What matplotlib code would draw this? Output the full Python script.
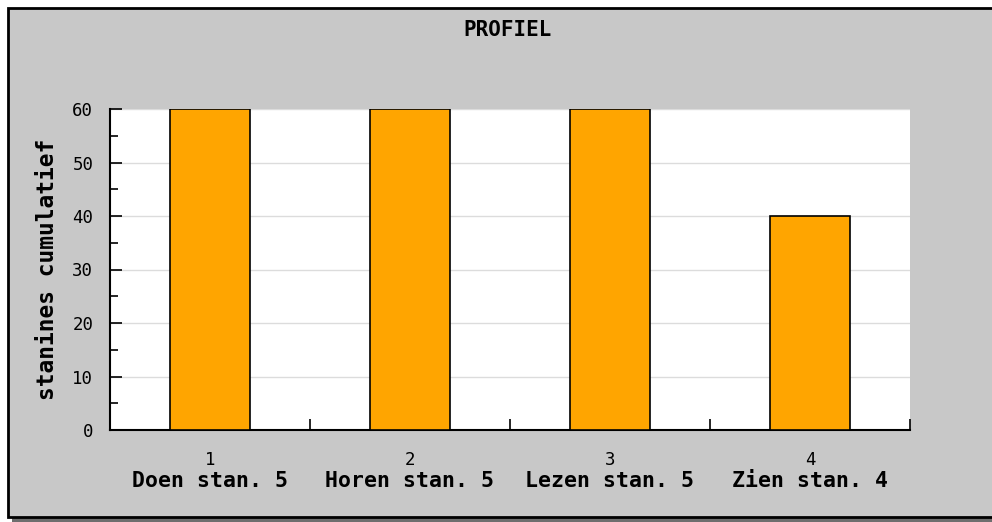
import matplotlib.pyplot as plt
from matplotlib.patches import Rectangle
from matplotlib.ticker import MultipleLocator

# data
posities = [1, 2, 3, 4]
namen = ['Doen stan. 5', 'Horen stan. 5', 'Lezen stan. 5', 'Zien stan. 4']
waarden = [60, 60, 60, 40]

W, H = 992, 522
fig = plt.figure(figsize=(W / 100, H / 100), dpi=100)
fig.patch.set_facecolor('white')

def fx(px):
    return px / W

def fy(py):
    return 1 - py / H

# schaduw + paneel met rand
fig.patches.append(Rectangle((fx(12), fy(522)), fx(1000), 510 / H,
                             transform=fig.transFigure, facecolor='#6e6e6e', edgecolor='none', zorder=0))
fig.patches.append(Rectangle((fx(8), fy(517)), fx(1000), (517 - 8) / H,
                             transform=fig.transFigure, facecolor='#c8c8c8', edgecolor='black',
                             linewidth=2, zorder=1))

ax = fig.add_axes([fx(110), fy(430), fx(800), (430 - 109) / H])
ax.set_facecolor('white')
ax.set_zorder(2)

ax.bar(posities, waarden, width=0.4, color='#ffa500', edgecolor='black', linewidth=1.2, zorder=3)

ax.set_xlim(0.5, 4.5)
ax.set_ylim(0, 60)
ax.yaxis.set_major_locator(MultipleLocator(10))
ax.yaxis.set_minor_locator(MultipleLocator(5))
ax.set_xticks([1.5, 2.5, 3.5, 4.5], labels=[])
ax.grid(axis='y', color='#dcdcdc', linewidth=1, zorder=1)
ax.set_axisbelow(True)

for s in ['top', 'right']:
    ax.spines[s].set_visible(False)
for s in ['left', 'bottom']:
    ax.spines[s].set_linewidth(1.5)

ax.tick_params(axis='x', direction='in', length=8, width=1.2)
ax.tick_params(axis='y', which='major', direction='in', length=8.5, width=1.2,
               labelsize=12.5, pad=12)
ax.tick_params(axis='y', which='minor', direction='in', length=5.5, width=1.2)
for lbl in ax.get_yticklabels():
    lbl.set_fontfamily('DejaVu Sans Mono')

tr = ax.get_xaxis_transform()
for p, naam in zip(posities, namen):
    ax.text(p, -0.093, str(p), transform=tr, ha='center', va='center',
            fontsize=12.5, family='DejaVu Sans Mono')
    ax.text(p, -0.16, naam, transform=tr, ha='center', va='center',
            fontsize=15.5, fontweight='bold', family='DejaVu Sans Mono')

ax.set_ylabel('stanines cumulatief', fontsize=16.5, fontweight='bold',
              family='DejaVu Sans Mono', va='center')
ax.yaxis.set_label_coords((47 - 110) / 800, 0.5)

fig.text(fx(508), fy(30), 'PROFIEL', ha='center', va='center', fontsize=15,
         fontweight='bold', family='DejaVu Sans Mono')

fig.savefig('out.png', dpi=100)
